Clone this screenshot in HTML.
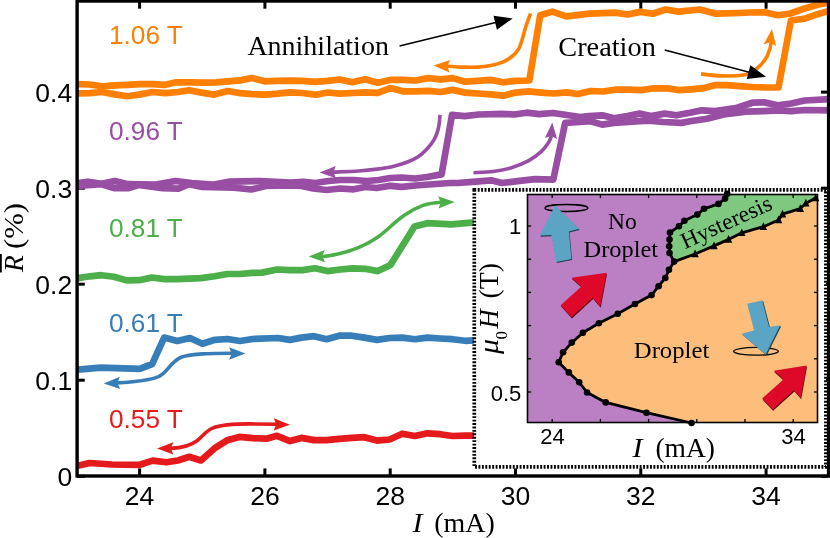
<!DOCTYPE html>
<html><head><meta charset="utf-8"><title>Figure</title>
<style>html,body{margin:0;padding:0;background:#fff;overflow:hidden}body{width:830px;height:538px;position:relative;font-family:"Liberation Sans",sans-serif}</style>
</head><body>
<svg width="830" height="538" viewBox="0 0 830 538" style="position:absolute;left:0;top:0;will-change:transform">
<rect width="830" height="538" fill="#fff"/>
<line x1="139.6" y1="476" x2="139.6" y2="468.4" stroke="#000" stroke-width="3"/>
<line x1="139.6" y1="1.5" x2="139.6" y2="8.7" stroke="#000" stroke-width="3"/>
<line x1="264.9" y1="476" x2="264.9" y2="468.4" stroke="#000" stroke-width="3"/>
<line x1="264.9" y1="1.5" x2="264.9" y2="8.7" stroke="#000" stroke-width="3"/>
<line x1="390.2" y1="476" x2="390.2" y2="468.4" stroke="#000" stroke-width="3"/>
<line x1="390.2" y1="1.5" x2="390.2" y2="8.7" stroke="#000" stroke-width="3"/>
<line x1="515.5" y1="476" x2="515.5" y2="468.4" stroke="#000" stroke-width="3"/>
<line x1="515.5" y1="1.5" x2="515.5" y2="8.7" stroke="#000" stroke-width="3"/>
<line x1="640.8" y1="476" x2="640.8" y2="468.4" stroke="#000" stroke-width="3"/>
<line x1="640.8" y1="1.5" x2="640.8" y2="8.7" stroke="#000" stroke-width="3"/>
<line x1="766.1" y1="476" x2="766.1" y2="468.4" stroke="#000" stroke-width="3"/>
<line x1="766.1" y1="1.5" x2="766.1" y2="8.7" stroke="#000" stroke-width="3"/>
<line x1="77" y1="476.3" x2="84.8" y2="476.3" stroke="#000" stroke-width="3"/>
<line x1="828" y1="476.3" x2="821" y2="476.3" stroke="#000" stroke-width="3"/>
<line x1="77" y1="380.2" x2="84.8" y2="380.2" stroke="#000" stroke-width="3"/>
<line x1="828" y1="380.2" x2="821" y2="380.2" stroke="#000" stroke-width="3"/>
<line x1="77" y1="284.2" x2="84.8" y2="284.2" stroke="#000" stroke-width="3"/>
<line x1="828" y1="284.2" x2="821" y2="284.2" stroke="#000" stroke-width="3"/>
<line x1="77" y1="188.2" x2="84.8" y2="188.2" stroke="#000" stroke-width="3"/>
<line x1="828" y1="188.2" x2="821" y2="188.2" stroke="#000" stroke-width="3"/>
<line x1="77" y1="92.1" x2="84.8" y2="92.1" stroke="#000" stroke-width="3"/>
<line x1="828" y1="92.1" x2="821" y2="92.1" stroke="#000" stroke-width="3"/>
<polyline points="78.0,93.5 89.5,93.1 102.1,92.0 114.8,94.4 127.4,96.2 140.1,94.4 152.7,92.0 165.4,93.1 178.0,92.0 188.9,90.2 201.5,92.6 214.2,94.6 227.7,91.0 240.3,93.2 252.0,94.1 264.7,94.6 277.4,93.6 290.0,92.3 302.7,93.0 315.3,94.8 328.0,92.5 339.7,93.6 352.4,93.0 365.0,92.3 377.7,92.8 390.3,88.1 403.0,91.3 415.6,91.3 428.3,90.8 440.8,92.0 452.6,89.9 465.2,92.6 477.9,93.5 490.5,94.4 503.2,95.7 515.8,92.6 528.5,91.3 541.1,92.6 553.8,93.5 566.4,92.4 578.0,94.0 590.6,91.0 603.3,91.5 615.9,89.5 628.6,89.7 641.2,90.1 653.9,88.3 666.5,88.3 679.2,90.1 690.8,89.3 703.5,88.2 714.3,85.2 727.0,85.2 739.6,86.1 752.3,87.0 765.0,87.5 778.5,87.5 790.9,20.5 804.0,18.8 817.5,14.2 830.0,10.6" fill="none" stroke="#ff7f00" stroke-width="6.7" stroke-linejoin="round" stroke-linecap="butt" />
<polyline points="78.0,84.1 89.5,84.5 102.1,86.3 114.8,85.4 127.4,84.8 140.1,84.1 152.7,84.1 165.4,84.8 176.2,82.3 190.7,82.3 203.3,82.7 216.0,82.3 227.7,81.3 240.3,80.4 252.0,78.0 264.7,81.3 277.4,80.9 290.0,80.7 302.7,80.8 315.3,81.9 328.0,80.8 339.7,79.5 352.4,82.3 365.0,79.3 377.7,82.7 390.3,79.9 403.0,79.9 415.6,80.5 428.3,78.1 440.8,79.4 452.6,78.1 465.2,81.7 477.9,80.8 490.5,79.9 503.2,82.3 515.8,80.8 529.3,80.5 540.2,15.2 552.4,11.6 566.1,16.3 589.6,13.7 614.9,12.6 627.6,14.5 640.2,11.9 652.9,13.7 665.5,9.5 678.2,11.6 699.9,9.5 716.1,13.7 740.0,13.0 750.0,12.5 764.5,12.3 778.0,15.2 790.5,13.5 804.0,8.7 817.5,4.8 830.0,2.3" fill="none" stroke="#ff7f00" stroke-width="6.7" stroke-linejoin="round" stroke-linecap="butt" />
<polyline points="78.0,183.0 88.0,181.7 101.5,183.7 114.8,181.0 128.0,184.2 154.5,184.7 175.7,181.0 191.6,183.0 212.8,184.7 228.7,181.7 260.5,181.0 290.0,182.5 303.5,181.8 315.0,183.0 328.6,181.0 340.0,180.0 353.6,180.0 367.0,181.0 378.7,180.0 390.2,178.0 401.8,177.5 415.3,178.5 426.9,177.0 441.6,174.4 452.0,114.8 464.7,116.2 478.8,114.5 501.8,113.8 514.2,114.5 526.5,112.7 538.9,114.1 553.0,113.0 568.5,115.3 580.3,117.0 588.7,116.1 602.2,115.3 614.0,118.3 627.5,116.1 639.3,113.6 651.1,116.1 664.6,113.6 676.4,115.3 690.0,112.8 701.8,110.3 715.3,111.1 737.2,107.8 752.4,102.7 764.2,102.4 777.7,105.2 791.2,103.5 804.7,100.5 830.0,99.2" fill="none" stroke="#984ea3" stroke-width="6.7" stroke-linejoin="round" stroke-linecap="butt" />
<polyline points="78.0,186.0 101.5,184.2 114.8,188.2 128.0,188.2 138.6,185.0 162.5,188.2 178.4,188.7 189.0,184.2 202.2,186.9 234.0,187.7 251.2,189.5 265.8,186.0 290.0,185.5 301.6,186.0 313.1,188.5 326.6,190.0 340.0,188.5 353.6,189.3 365.2,187.0 376.7,188.0 390.2,185.8 401.8,186.8 415.3,185.5 428.8,184.5 450.0,183.0 457.7,183.0 475.3,181.6 491.2,180.3 501.8,183.0 519.4,180.9 535.3,179.1 553.3,179.6 565.2,122.8 580.0,122.0 590.4,121.2 602.2,124.6 614.0,122.9 639.3,121.2 649.4,120.7 662.9,122.0 681.5,122.9 690.0,121.3 706.9,118.7 723.7,114.5 745.6,111.6 764.2,111.1 777.7,110.3 791.2,111.1 804.7,110.0 830.0,110.3" fill="none" stroke="#984ea3" stroke-width="6.7" stroke-linejoin="round" stroke-linecap="butt" />
<polyline points="78.0,278.1 89.9,276.3 101.3,275.2 113.9,276.8 126.5,280.4 139.1,280.2 151.7,277.5 164.3,279.1 176.9,279.1 200.9,278.1 214.7,276.3 227.2,274.0 239.8,274.0 252.4,272.9 262.0,272.6 277.2,269.5 289.8,270.1 302.4,270.1 315.0,268.3 327.5,271.1 340.1,269.5 352.7,268.3 365.3,268.8 377.9,271.1 390.5,264.9 414.5,226.5 427.5,223.2 451.6,224.4 474.0,222.4" fill="none" stroke="#4daf4a" stroke-width="6.7" stroke-linejoin="round" stroke-linecap="butt" />
<polyline points="78.0,369.6 100.7,367.7 139.7,368.8 152.2,364.0 164.2,337.6 177.3,341.0 189.9,338.0 202.4,343.7 215.0,339.8 227.5,339.0 240.0,341.0 252.6,339.0 277.7,338.0 290.0,339.9 301.4,337.6 314.0,336.2 326.6,339.2 339.2,335.7 351.8,335.7 364.4,337.6 377.0,339.9 389.6,338.0 402.2,337.6 414.8,339.2 427.4,337.6 440.0,338.5 452.5,339.2 465.1,340.8 474.0,340.3" fill="none" stroke="#377eb8" stroke-width="6.7" stroke-linejoin="round" stroke-linecap="butt" />
<polyline points="78.0,465.7 89.5,463.0 111.8,464.5 139.7,464.8 152.7,460.6 166.2,462.3 177.8,460.5 189.3,456.8 200.9,460.5 214.4,448.4 227.9,439.9 239.5,436.9 253.0,438.2 266.4,438.7 277.0,435.8 290.0,441.1 301.4,437.9 314.0,440.1 326.6,440.1 339.2,438.8 351.8,437.9 364.4,437.2 377.0,440.6 389.6,439.5 402.2,433.7 414.8,436.0 427.4,433.3 440.0,434.2 452.5,436.0 465.1,435.6 474.0,435.6" fill="none" stroke="#e41a1c" stroke-width="6.7" stroke-linejoin="round" stroke-linecap="butt" />
<path d="M530.5,13.5 C529.8,15.5 527.5,21.4 526.2,25.3 C524.9,29.2 524.1,33.2 522.9,37.1 C521.6,41.0 520.5,45.7 518.7,48.9 C516.9,52.1 514.6,54.3 511.9,56.5 C509.2,58.7 506.1,60.6 502.6,62.1 C499.1,63.6 495.0,64.6 490.8,65.4 C486.6,66.2 482.1,66.8 477.3,67.1 C472.5,67.4 467.2,67.2 462.2,67.1 C457.1,66.9 449.5,66.3 447.0,66.2" fill="none" stroke="#ff7f00" stroke-width="3.6" stroke-linecap="butt"/>
<polygon points="433.5,65.4 450.1,60.0 447.3,66.1 449.5,72.4" fill="#ff7f00"/>
<path d="M701,73.9 C712,75.5 732,77 745,74.7 C752,73.4 762,66 767.3,55.8 C770,50 771,45 771.2,42" fill="none" stroke="#ff7f00" stroke-width="3.6" stroke-linecap="butt"/>
<polygon points="772.0,28.9 776.0,45.9 770.2,42.6 763.7,44.3" fill="#ff7f00"/>
<path d="M440.0,114.9 C439.9,116.2 439.7,120.2 439.3,122.9 C438.9,125.6 438.6,128.0 437.7,130.9 C436.8,133.8 435.5,137.2 433.8,140.1 C432.1,143.0 430.0,145.7 427.4,148.5 C424.8,151.3 421.6,154.5 418.2,156.8 C414.8,159.1 411.0,160.7 406.8,162.3 C402.6,163.9 398.0,165.3 393.0,166.4 C388.0,167.5 382.7,168.3 377.0,169.1 C371.3,169.9 366.0,170.5 358.7,171.0 C351.4,171.5 337.3,171.9 333.0,172.1" fill="none" stroke="#984ea3" stroke-width="3.6" stroke-linecap="butt"/>
<polygon points="319.6,172.4 335.8,165.9 333.4,172.1 336.0,178.3" fill="#984ea3"/>
<path d="M473.5,172.7 C476.8,172.5 486.8,172.3 493.0,171.5 C499.2,170.7 504.7,169.8 510.6,168.0 C516.5,166.2 523.3,163.6 528.3,160.9 C533.3,158.2 537.2,155.2 540.6,152.1 C544.0,149.0 546.8,145.1 548.6,142.4 C550.4,139.7 550.9,137.1 551.4,136.0" fill="none" stroke="#984ea3" stroke-width="3.6" stroke-linecap="butt"/>
<polygon points="552.3,122.6 557.1,139.0 551.2,136.1 544.9,138.1" fill="#984ea3"/>
<path d="M322,256.8 C345,254 362,248 378,237 C392,227 400,214 423,205.4 C430,203 436,202.5 441,202.2" fill="none" stroke="#4daf4a" stroke-width="3.6" stroke-linecap="butt"/>
<polygon points="308.6,256.6 324.7,249.9 322.4,256.2 325.1,262.3" fill="#4daf4a"/>
<polygon points="454.6,201.9 438.5,208.6 440.8,202.3 438.1,196.2" fill="#4daf4a"/>
<path d="M117,382.9 C135,382 150,380 158.6,376.6 C168,372 170,362 181.7,357 C192,353.5 210,353.3 232,353.2" fill="none" stroke="#377eb8" stroke-width="3.6" stroke-linecap="butt"/>
<polygon points="103.7,383.4 119.8,376.7 117.5,383.0 120.2,389.1" fill="#377eb8"/>
<polygon points="245.4,353.5 229.1,359.7 231.6,353.5 229.1,347.3" fill="#377eb8"/>
<path d="M171,448.4 C180,448 190,446 197,440.7 C203,436 206,431 212.5,428.1 C222,424.3 235,423.9 250,423.9 L277,424.3" fill="none" stroke="#e41a1c" stroke-width="3.6" stroke-linecap="butt"/>
<polygon points="157.0,448.4 173.3,442.2 170.8,448.4 173.3,454.6" fill="#e41a1c"/>
<polygon points="290.0,424.7 273.6,430.6 276.2,424.4 273.8,418.2" fill="#e41a1c"/>
<line x1="399.5" y1="46" x2="498.7" y2="21.8" stroke="#000" stroke-width="1.6"/>
<polygon points="512.7,18.4 496.9,29.7 495.2,22.7 493.5,15.7" fill="#000"/>
<line x1="664.7" y1="50" x2="752.1" y2="73.0" stroke="#000" stroke-width="1.6"/>
<polygon points="766.0,76.7 746.8,79.1 748.6,72.1 750.4,65.2" fill="#000"/>
<rect x="474.3" y="189.9" width="351.6" height="277.0" fill="#fff" stroke="#000" stroke-width="3.7" stroke-dasharray="1.9 1.53"/>
<defs><clipPath id="ic"><rect x="527.5" y="194.5" width="290.0" height="228.0"/></clipPath></defs>
<g clip-path="url(#ic)">
<rect x="527.5" y="194.5" width="290.0" height="228.0" fill="#bb80c4"/>
<polygon points="691.6,423.0 646.5,412.7 605.7,402.4 587.1,392.5 579.2,382.3 568.8,372.4 558.7,362.3 563.1,352.3 571.8,342.6 582.9,332.7 598.8,323.3 617.8,313.7 635.0,304.0 651.6,295.1 658.6,286.2 665.3,278.0 669.0,269.8 674.2,261.6 695.1,254.0 714.0,245.9 728.6,239.4 741.8,232.8 763.4,226.7 778.6,220.0 782.5,214.2 800.3,208.6 805.9,203.2 815.7,198.0 819.5,196.0 819.5,424.5 691.6,424.5" fill="#fdbe7c"/>
<polygon points="727.2,193.7 725.1,198.6 718.4,203.9 704.0,208.8 697.3,214.6 684.4,220.8 679.0,226.2 670.0,232.6 669.5,239.6 669.2,246.3 669.5,253.0 674.2,261.6 695.1,254.0 714.0,245.9 728.6,239.4 741.8,232.8 763.4,226.7 778.6,220.0 782.5,214.2 800.3,208.6 805.9,203.2 815.7,198.0 819.5,196.0 819.5,192.5 727.2,192.5" fill="#7fc87f"/>
</g>
<polyline points="727.2,193.7 725.1,198.6 718.4,203.9 704.0,208.8 697.3,214.6 684.4,220.8 679.0,226.2 670.0,232.6 669.5,239.6 669.2,246.3 669.5,253.0 674.2,261.6" fill="none" stroke="#000" stroke-width="2.8" stroke-linejoin="round" stroke-linecap="butt" />
<polyline points="674.2,261.6 695.1,254.0 714.0,245.9 728.6,239.4 741.8,232.8 763.4,226.7 778.6,220.0 782.5,214.2 800.3,208.6 805.9,203.2 815.7,198.0" fill="none" stroke="#000" stroke-width="2.8" stroke-linejoin="round" stroke-linecap="butt" />
<polyline points="674.2,261.6 669.0,269.8 665.3,278.0 658.6,286.2 651.6,295.1 635.0,304.0 617.8,313.7 598.8,323.3 582.9,332.7 571.8,342.6 563.1,352.3 558.7,362.3 568.8,372.4 579.2,382.3 587.1,392.5 605.7,402.4 646.5,412.7 691.6,423.0" fill="none" stroke="#000" stroke-width="2.8" stroke-linejoin="round" stroke-linecap="butt" />
<circle cx="727.2" cy="193.7" r="3.3" fill="#000"/>
<circle cx="725.1" cy="198.6" r="3.3" fill="#000"/>
<circle cx="718.4" cy="203.9" r="3.3" fill="#000"/>
<circle cx="704.0" cy="208.8" r="3.3" fill="#000"/>
<circle cx="697.3" cy="214.6" r="3.3" fill="#000"/>
<circle cx="684.4" cy="220.8" r="3.3" fill="#000"/>
<circle cx="679.0" cy="226.2" r="3.3" fill="#000"/>
<circle cx="670.0" cy="232.6" r="3.3" fill="#000"/>
<circle cx="669.5" cy="239.6" r="3.3" fill="#000"/>
<circle cx="669.2" cy="246.3" r="3.3" fill="#000"/>
<circle cx="669.5" cy="253.0" r="3.3" fill="#000"/>
<circle cx="674.2" cy="261.6" r="3.3" fill="#000"/>
<circle cx="669.0" cy="269.8" r="3.3" fill="#000"/>
<circle cx="665.3" cy="278.0" r="3.3" fill="#000"/>
<circle cx="658.6" cy="286.2" r="3.3" fill="#000"/>
<circle cx="651.6" cy="295.1" r="3.3" fill="#000"/>
<circle cx="635.0" cy="304.0" r="3.3" fill="#000"/>
<circle cx="617.8" cy="313.7" r="3.3" fill="#000"/>
<circle cx="598.8" cy="323.3" r="3.3" fill="#000"/>
<circle cx="582.9" cy="332.7" r="3.3" fill="#000"/>
<circle cx="571.8" cy="342.6" r="3.3" fill="#000"/>
<circle cx="563.1" cy="352.3" r="3.3" fill="#000"/>
<circle cx="558.7" cy="362.3" r="3.3" fill="#000"/>
<circle cx="568.8" cy="372.4" r="3.3" fill="#000"/>
<circle cx="579.2" cy="382.3" r="3.3" fill="#000"/>
<circle cx="587.1" cy="392.5" r="3.3" fill="#000"/>
<circle cx="605.7" cy="402.4" r="3.3" fill="#000"/>
<circle cx="646.5" cy="412.7" r="3.3" fill="#000"/>
<circle cx="691.6" cy="423.0" r="3.3" fill="#000"/>
<polygon points="695.1,249.6 691.4,257.3 698.8,257.3" fill="#000"/>
<polygon points="714.0,241.5 710.3,249.2 717.7,249.2" fill="#000"/>
<polygon points="728.6,235.0 724.9,242.7 732.3,242.7" fill="#000"/>
<polygon points="741.8,228.4 738.1,236.1 745.5,236.1" fill="#000"/>
<polygon points="763.4,222.3 759.7,230.0 767.1,230.0" fill="#000"/>
<polygon points="778.6,215.6 774.9,223.3 782.3,223.3" fill="#000"/>
<polygon points="782.5,209.8 778.8,217.5 786.2,217.5" fill="#000"/>
<polygon points="800.3,204.2 796.6,211.9 804.0,211.9" fill="#000"/>
<polygon points="805.9,198.8 802.2,206.5 809.6,206.5" fill="#000"/>
<polygon points="815.7,193.6 812.0,201.3 819.4,201.3" fill="#000"/>
<rect x="527.5" y="194.5" width="290.0" height="228.0" fill="none" stroke="#000" stroke-width="1.6"/>
<line x1="552.2" y1="194.5" x2="552.2" y2="198.1" stroke="#000" stroke-width="1.3"/>
<line x1="552.2" y1="422.5" x2="552.2" y2="418.9" stroke="#000" stroke-width="1.3"/>
<line x1="600.4" y1="194.5" x2="600.4" y2="198.1" stroke="#000" stroke-width="1.3"/>
<line x1="600.4" y1="422.5" x2="600.4" y2="418.9" stroke="#000" stroke-width="1.3"/>
<line x1="648.6" y1="194.5" x2="648.6" y2="198.1" stroke="#000" stroke-width="1.3"/>
<line x1="648.6" y1="422.5" x2="648.6" y2="418.9" stroke="#000" stroke-width="1.3"/>
<line x1="696.8" y1="194.5" x2="696.8" y2="198.1" stroke="#000" stroke-width="1.3"/>
<line x1="696.8" y1="422.5" x2="696.8" y2="418.9" stroke="#000" stroke-width="1.3"/>
<line x1="745.0" y1="194.5" x2="745.0" y2="198.1" stroke="#000" stroke-width="1.3"/>
<line x1="745.0" y1="422.5" x2="745.0" y2="418.9" stroke="#000" stroke-width="1.3"/>
<line x1="793.2" y1="194.5" x2="793.2" y2="198.1" stroke="#000" stroke-width="1.3"/>
<line x1="793.2" y1="422.5" x2="793.2" y2="418.9" stroke="#000" stroke-width="1.3"/>
<line x1="527.5" y1="226.0" x2="531.1" y2="226.0" stroke="#000" stroke-width="1.3"/>
<line x1="817.5" y1="226.0" x2="813.9" y2="226.0" stroke="#000" stroke-width="1.3"/>
<line x1="527.5" y1="259.2" x2="531.1" y2="259.2" stroke="#000" stroke-width="1.3"/>
<line x1="817.5" y1="259.2" x2="813.9" y2="259.2" stroke="#000" stroke-width="1.3"/>
<line x1="527.5" y1="292.4" x2="531.1" y2="292.4" stroke="#000" stroke-width="1.3"/>
<line x1="817.5" y1="292.4" x2="813.9" y2="292.4" stroke="#000" stroke-width="1.3"/>
<line x1="527.5" y1="325.6" x2="531.1" y2="325.6" stroke="#000" stroke-width="1.3"/>
<line x1="817.5" y1="325.6" x2="813.9" y2="325.6" stroke="#000" stroke-width="1.3"/>
<line x1="527.5" y1="358.8" x2="531.1" y2="358.8" stroke="#000" stroke-width="1.3"/>
<line x1="817.5" y1="358.8" x2="813.9" y2="358.8" stroke="#000" stroke-width="1.3"/>
<line x1="527.5" y1="392.0" x2="531.1" y2="392.0" stroke="#000" stroke-width="1.3"/>
<line x1="817.5" y1="392.0" x2="813.9" y2="392.0" stroke="#000" stroke-width="1.3"/>
<ellipse cx="566.4" cy="208" rx="21.5" ry="3.5" fill="none" stroke="#000" stroke-width="1.3"/>
<ellipse cx="756" cy="351.3" rx="22.4" ry="3.9" fill="none" stroke="#000" stroke-width="1.3"/>
<polygon points="555.8,206.7 579.6,230.0 569.6,232.6 572.1,260.1 557.0,263.1 552.0,236.3 540.2,236.8" fill="#1f4456" />
<polygon points="555.1,205.5 578.9,228.8 568.9,231.4 571.4,258.9 556.3,261.9 551.3,235.1 539.5,235.6" fill="#5ba4c4" />
<polygon points="607.0,274.0 571.9,279.0 581.9,287.8 561.1,306.6 571.9,318.6 593.2,299.1 600.7,307.8" fill="#5a0612" />
<polygon points="606.5,272.7 571.4,277.7 581.4,286.5 560.6,305.3 571.4,317.3 592.7,297.8 600.2,306.5" fill="#de0828" />
<polygon points="748.2,304.7 763.2,301.3 770.1,327.8 781.2,326.2 766.7,355.5 742.5,334.7 755.1,331.3" fill="#1f4456" />
<polygon points="747.2,303.8 762.2,300.4 769.1,326.9 780.2,325.3 765.7,354.6 741.5,333.8 754.1,330.4" fill="#5ba4c4" />
<polygon points="807.0,366.7 774.2,372.0 783.9,380.8 762.7,399.7 773.1,410.7 794.5,391.6 801.2,399.2" fill="#5a0612" />
<polygon points="806.5,365.4 773.7,370.7 783.4,379.5 762.2,398.4 772.6,409.4 794.0,390.3 800.7,397.9" fill="#de0828" />
<rect x="77.1" y="1.0" width="751.5" height="475" fill="none" stroke="#000" stroke-width="3.4"/>
<text x="109.0" y="43.9" font-family="'Liberation Sans', sans-serif" font-size="26.2" fill="#ff7f00" text-anchor="start" >1.06 T</text>
<text x="109.0" y="140.4" font-family="'Liberation Sans', sans-serif" font-size="26.2" fill="#984ea3" text-anchor="start" >0.96 T</text>
<text x="109.0" y="236.9" font-family="'Liberation Sans', sans-serif" font-size="26.2" fill="#4daf4a" text-anchor="start" >0.81 T</text>
<text x="109.0" y="331.59999999999997" font-family="'Liberation Sans', sans-serif" font-size="26.2" fill="#377eb8" text-anchor="start" >0.61 T</text>
<text x="109.0" y="428.4" font-family="'Liberation Sans', sans-serif" font-size="26.2" fill="#e41a1c" text-anchor="start" >0.55 T</text>
<text x="72.2" y="486.1" font-family="'Liberation Sans', sans-serif" font-size="26.5" fill="#000" text-anchor="end" >0</text>
<text x="72.2" y="390.1" font-family="'Liberation Sans', sans-serif" font-size="26.5" fill="#000" text-anchor="end" >0.1</text>
<text x="72.2" y="294.0" font-family="'Liberation Sans', sans-serif" font-size="26.5" fill="#000" text-anchor="end" >0.2</text>
<text x="72.2" y="197.9" font-family="'Liberation Sans', sans-serif" font-size="26.5" fill="#000" text-anchor="end" >0.3</text>
<text x="72.2" y="101.8" font-family="'Liberation Sans', sans-serif" font-size="26.5" fill="#000" text-anchor="end" >0.4</text>
<text x="139.6" y="505" font-family="'Liberation Sans', sans-serif" font-size="26.5" fill="#000" text-anchor="middle" >24</text>
<text x="264.9" y="505" font-family="'Liberation Sans', sans-serif" font-size="26.5" fill="#000" text-anchor="middle" >26</text>
<text x="390.2" y="505" font-family="'Liberation Sans', sans-serif" font-size="26.5" fill="#000" text-anchor="middle" >28</text>
<text x="515.5" y="505" font-family="'Liberation Sans', sans-serif" font-size="26.5" fill="#000" text-anchor="middle" >30</text>
<text x="640.8" y="505" font-family="'Liberation Sans', sans-serif" font-size="26.5" fill="#000" text-anchor="middle" >32</text>
<text x="766.1" y="505" font-family="'Liberation Sans', sans-serif" font-size="26.5" fill="#000" text-anchor="middle" >34</text>
<text x="247.4" y="55.3" font-family="'Liberation Serif', serif" font-size="27.5" fill="#000" text-anchor="start" textLength="141.5" lengthAdjust="spacingAndGlyphs">Annihilation</text>
<text x="558.3" y="56" font-family="'Liberation Serif', serif" font-size="27" fill="#000" text-anchor="start" textLength="97.5" lengthAdjust="spacingAndGlyphs">Creation</text>
<text x="412.6" y="531.5" font-family="'Liberation Serif', serif" font-size="27.5" fill="#000" text-anchor="start" font-style="italic" textLength="10" lengthAdjust="spacingAndGlyphs">I</text>
<text x="434.2" y="531.5" font-family="'Liberation Serif', serif" font-size="27" fill="#000" text-anchor="start" textLength="60.5" lengthAdjust="spacingAndGlyphs">(mA)</text>
<text x="0" y="0" font-family="'Liberation Serif', serif" font-size="27.5" fill="#000" text-anchor="start" font-style="italic" transform="translate(23.4,272) rotate(-90)">R</text>
<text x="0" y="0" font-family="'Liberation Serif', serif" font-size="27" fill="#000" text-anchor="start" transform="translate(23.4,249) rotate(-90)" textLength="46" lengthAdjust="spacingAndGlyphs">(%)</text>
<line x1="0.9" y1="254" x2="0.9" y2="272.5" stroke="#000" stroke-width="1.8"/>
<text x="521.3" y="234" font-family="'Liberation Sans', sans-serif" font-size="22" fill="#000" text-anchor="end" >1</text>
<text x="521.3" y="400.7" font-family="'Liberation Sans', sans-serif" font-size="22" fill="#000" text-anchor="end" >0.5</text>
<text x="552.4" y="443.6" font-family="'Liberation Sans', sans-serif" font-size="22" fill="#000" text-anchor="middle" >24</text>
<text x="793.4" y="443.6" font-family="'Liberation Sans', sans-serif" font-size="22" fill="#000" text-anchor="middle" >34</text>
<text x="632.6" y="456.8" font-family="'Liberation Serif', serif" font-size="27.5" fill="#000" text-anchor="start" font-style="italic" textLength="10" lengthAdjust="spacingAndGlyphs">I</text>
<text x="655.4" y="456.8" font-family="'Liberation Serif', serif" font-size="27" fill="#000" text-anchor="start" textLength="59.5" lengthAdjust="spacingAndGlyphs">(mA)</text>
<text x="608.0" y="228.8" font-family="'Liberation Serif', serif" font-size="23.5" fill="#000" text-anchor="start" >No</text>
<text x="583.6" y="256.7" font-family="'Liberation Serif', serif" font-size="23.5" fill="#000" text-anchor="start" textLength="74.5" lengthAdjust="spacingAndGlyphs">Droplet</text>
<text x="633.8" y="357.5" font-family="'Liberation Serif', serif" font-size="23.5" fill="#000" text-anchor="start" textLength="75.5" lengthAdjust="spacingAndGlyphs">Droplet</text>
<text x="0" y="0" font-family="'Liberation Serif', serif" font-size="23" fill="#000" text-anchor="start" transform="translate(685,249.2) rotate(-24.5)" textLength="97.5" lengthAdjust="spacingAndGlyphs">Hysteresis</text>
<text x="0" y="0" font-family="'Liberation Serif', serif" font-size="27" fill="#000" text-anchor="start" font-style="italic" transform="translate(498.3,354) rotate(-90)" textLength="15" lengthAdjust="spacingAndGlyphs">μ</text>
<text x="0" y="0" font-family="'Liberation Serif', serif" font-size="17" fill="#000" text-anchor="start" transform="translate(507.3,339.6) rotate(-90)">0</text>
<text x="0" y="0" font-family="'Liberation Serif', serif" font-size="26.5" fill="#000" text-anchor="start" font-style="italic" transform="translate(498.3,328.6) rotate(-90)">H</text>
<text x="0" y="0" font-family="'Liberation Serif', serif" font-size="27" fill="#000" text-anchor="start" transform="translate(498.3,298.5) rotate(-90)" textLength="35.5" lengthAdjust="spacingAndGlyphs">(T)</text>
</svg>
</body></html>
